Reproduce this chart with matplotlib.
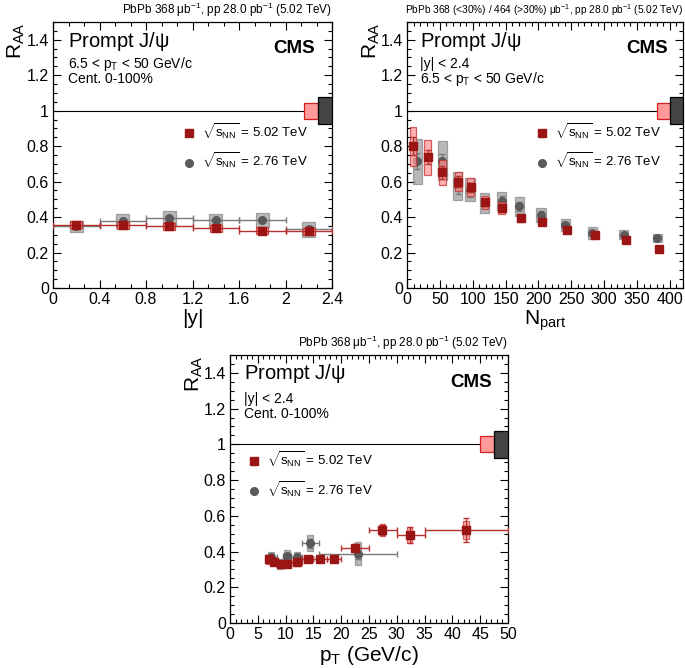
import matplotlib
matplotlib.use("Agg")
import matplotlib.pyplot as plt
from matplotlib.patches import Rectangle
from matplotlib.lines import Line2D
from matplotlib.ticker import MultipleLocator, FuncFormatter

plt.rcParams['font.family'] = ['Liberation Sans', 'DejaVu Sans']
plt.rcParams['mathtext.fontset'] = 'custom'
plt.rcParams['mathtext.rm'] = 'Liberation Sans'
plt.rcParams['mathtext.it'] = 'Liberation Sans'
plt.rcParams['mathtext.bf'] = 'Liberation Sans:bold'

# ---------------- data: RAA vs |y| ----------------
y_red_x = [0.2, 0.6, 1.0, 1.4, 1.8, 2.2]
y_red_xerr = [0.2, 0.2, 0.2, 0.2, 0.2, 0.2]
y_red_val = [0.357, 0.355, 0.347, 0.336, 0.323, 0.319]
y_red_stat = [0.006, 0.006, 0.006, 0.006, 0.006, 0.007]
y_red_sys = [0.02, 0.02, 0.02, 0.02, 0.02, 0.02]
y_gray_x = [0.2, 0.6, 1.0, 1.4, 1.8, 2.2]
y_gray_xerr = [0.2, 0.2, 0.2, 0.2, 0.2, 0.2]
y_gray_val = [0.347, 0.376, 0.392, 0.381, 0.385, 0.330]
y_gray_stat = [0.008, 0.008, 0.008, 0.008, 0.008, 0.01]
y_gray_sys = [0.03, 0.04, 0.04, 0.035, 0.04, 0.04]

# ---------------- data: RAA vs Npart ----------------
n_red_x = [9, 31.5, 54, 78, 97, 119, 144, 173, 205.5, 243, 286, 333, 383.5]
n_red_val = [0.80, 0.737, 0.652, 0.600, 0.568, 0.483, 0.451, 0.395, 0.374, 0.329, 0.301, 0.270, 0.221]
n_red_stat = [0.05, 0.04, 0.035, 0.03, 0.025, 0.02, 0.02, 0.015, 0.012, 0.01, 0.008, 0.008, 0.006]
n_red_sys = [0.11, 0.10, 0.07, 0.055, 0.05, 0.035, 0.035, 0.025, 0.02, 0.015, 0.013, 0.012, 0.012]
n_gray_x = [15.5, 54, 77, 96, 118, 144, 171, 204, 241, 282, 330, 381]
n_gray_val = [0.714, 0.718, 0.575, 0.555, 0.480, 0.490, 0.460, 0.413, 0.357, 0.310, 0.300, 0.283]
n_gray_stat = [0.045, 0.035, 0.045, 0.04, 0.03, 0.03, 0.025, 0.02, 0.015, 0.012, 0.01, 0.01]
n_gray_sys = [0.128, 0.11, 0.077, 0.065, 0.056, 0.05, 0.055, 0.04, 0.034, 0.032, 0.025, 0.022]

# ---------------- data: RAA vs pT ----------------
p_red_lo = [6.5, 7.5, 8.5, 9.5, 11, 13, 15, 17.5, 20, 25, 30, 35]
p_red_hi = [7.5, 8.5, 9.5, 11, 13, 15, 17.5, 20, 25, 30, 35, 50]
p_red_x = [7.0, 7.9, 9.2, 10.3, 12.0, 14.0, 16.2, 18.7, 22.5, 27.4, 32.3, 42.4]
p_red_val = [0.358, 0.343, 0.332, 0.332, 0.339, 0.356, 0.356, 0.360, 0.420, 0.520, 0.490, 0.520]
p_red_stat = [0.01, 0.01, 0.01, 0.01, 0.01, 0.01, 0.01, 0.012, 0.02, 0.03, 0.045, 0.065]
p_red_sys = [0.025, 0.02, 0.02, 0.02, 0.02, 0.015, 0.015, 0.015, 0.02, 0.035, 0.045, 0.05]
p_gray_lo = [6.5, 8.5, 9.5, 11, 13, 16]
p_gray_hi = [8.5, 9.5, 11, 13, 16, 30]
p_gray_x = [7.4, 9.0, 10.2, 12.0, 14.4, 23.0]
p_gray_val = [0.370, 0.330, 0.377, 0.370, 0.446, 0.388]
p_gray_stat = [0.015, 0.015, 0.015, 0.015, 0.025, 0.03]
p_gray_sys = [0.03, 0.03, 0.03, 0.03, 0.044, 0.064]

# global uncertainties (box at unity)
glob_red = 0.045
glob_gray = 0.077

RED = '#9b1515'
RED_LINE = '#b83030'
PINK = '#ff9a9a'
GRAY = '#5a5a5a'
GRAY_LINE = '#7a7a7a'
GRAY_BOX = '#a0a0a0'

titles = [r'PbPb 368 $\mu$b$^{-1}$, pp 28.0 pb$^{-1}$ (5.02 TeV)',
          r'PbPb 368 (<30%) / 464 (>30%) $\mu$b$^{-1}$, pp 28.0 pb$^{-1}$ (5.02 TeV)',
          r'PbPb 368 $\mu$b$^{-1}$, pp 28.0 pb$^{-1}$ (5.02 TeV)']
title_sizes = [8.5, 7.3, 8.5]

fig = plt.figure(figsize=(6.85, 6.68), dpi=100)
ax1 = fig.add_axes([53/685, 1-288/668, 279/685, 266/668])
ax2 = fig.add_axes([407/685, 1-288/668, 276/685, 266/668])
ax3 = fig.add_axes([230/685, 1-623/668, 278/685, 268/668])


def boxes(ax, xs, ys, half_h, half_w, fc, ec, alpha, z):
    for x, y, h in zip(xs, ys, half_h):
        ax.add_patch(Rectangle((x - half_w, y - h), 2*half_w, 2*h, facecolor=fc,
                               edgecolor=ec, alpha=alpha, lw=0.9, zorder=z))


def style(ax, xmax, xmaj, xmin, xlabel, title, tsize):
    ax.set_ylim(0, 1.5)
    ax.set_xlim(0, xmax)
    ax.axhline(1.0, color='black', lw=0.8, zorder=1)
    ax.yaxis.set_major_locator(MultipleLocator(0.2))
    ax.yaxis.set_minor_locator(MultipleLocator(0.05))
    ax.xaxis.set_major_locator(MultipleLocator(xmaj))
    ax.xaxis.set_minor_locator(MultipleLocator(xmin))
    fmt = FuncFormatter(lambda v, p: ('%.1f' % v).rstrip('0').rstrip('.') if abs(v) > 1e-9 else '0')
    ax.yaxis.set_major_formatter(fmt)
    ax.xaxis.set_major_formatter(fmt)
    ax.tick_params(which='both', direction='in', top=True, right=True, labelsize=11.5,
                   width=0.8, colors='black')
    ax.tick_params(which='major', length=6, pad=3)
    ax.tick_params(which='minor', length=3)
    for s in ax.spines.values():
        s.set_linewidth(0.9)
    ax.set_xlabel(xlabel, fontsize=15, labelpad=1)
    ax.text(-0.13, 1.0, r'$R_{AA}$', rotation=90, ha='center', va='top',
            fontsize=15, transform=ax.transAxes)
    ax.text(1.0, 1.03, title, ha='right', va='baseline', fontsize=tsize,
            transform=ax.transAxes)


def global_boxes(ax, x0, x1, x2):
    ax.add_patch(Rectangle((x0, 1 - glob_red), x1 - x0, 2*glob_red, facecolor=PINK,
                           edgecolor='#d02020', lw=0.9, zorder=3))
    ax.add_patch(Rectangle((x1, 1 - glob_gray), x2 - x1, 2*glob_gray, facecolor='#444444',
                           edgecolor='black', lw=0.9, zorder=3))


def legend(ax, x, y):
    h = [Line2D([], [], marker='s', color=RED, ls='none', ms=5.8),
         Line2D([], [], marker='o', color=GRAY, ls='none', ms=5.5)]
    lab = [r'$\sqrt{s_{\mathrm{NN}}}$ = 5.02 TeV', r'$\sqrt{s_{\mathrm{NN}}}$ = 2.76 TeV']
    ax.legend(h, lab, loc='center left', bbox_to_anchor=(x, y), frameon=False,
              fontsize=9.5, handlelength=0.8, handletextpad=0.55, labelspacing=0.75,
              borderpad=0, borderaxespad=0)


def labels(ax, x, ys, lines, cms_x, cms_y):
    ax.text(x, ys[0], r'Prompt J/$\psi$', fontsize=14.5, transform=ax.transAxes)
    ax.text(x, ys[1], lines[0], fontsize=10, transform=ax.transAxes)
    ax.text(x, ys[2], lines[1], fontsize=10, transform=ax.transAxes)
    ax.text(cms_x, cms_y, 'CMS', fontsize=13.5, fontweight='bold', ha='right',
            transform=ax.transAxes)


PT_TXT = r'6.5 < p$_{\mathrm{T}}$ < 50 GeV/c'

# ---------- panel 1 : |y| ----------
boxes(ax1, y_gray_x, y_gray_val, y_gray_sys, 0.055, GRAY_BOX, '#888888', 0.75, 2)
ax1.errorbar(y_gray_x, y_gray_val, xerr=y_gray_xerr, yerr=y_gray_stat, fmt='o', color=GRAY,
             ecolor=GRAY_LINE, ms=5.5, capsize=2.5, elinewidth=1.0, zorder=4)
boxes(ax1, y_red_x, y_red_val, y_red_sys, 0.05, PINK, '#c83030', 0.9, 5)
ax1.errorbar(y_red_x, y_red_val, xerr=y_red_xerr, yerr=y_red_stat, fmt='s', color=RED,
             ecolor=RED_LINE, ms=5.8, capsize=2.5, elinewidth=1.0, zorder=6)
global_boxes(ax1, 2.16, 2.28, 2.4)
style(ax1, 2.4, 0.4, 0.4/3, '|y|', titles[0], title_sizes[0])
labels(ax1, 0.053, [0.907, 0.826, 0.770], [PT_TXT, 'Cent. 0-100%'], 0.939, 0.882)
legend(ax1, 0.470, 0.532)

# ---------- panel 2 : Npart ----------
boxes(ax2, n_gray_x, n_gray_val, n_gray_sys, 7, GRAY_BOX, '#888888', 0.75, 2)
ax2.errorbar(n_gray_x, n_gray_val, yerr=n_gray_stat, fmt='o', color=GRAY,
             ecolor=GRAY_LINE, ms=5.5, capsize=2.5, elinewidth=1.0, zorder=4)
boxes(ax2, n_red_x, n_red_val, n_red_sys, 5, PINK, '#c83030', 0.75, 5)
ax2.errorbar(n_red_x, n_red_val, yerr=n_red_stat, fmt='s', color=RED,
             ecolor=RED_LINE, ms=5.8, capsize=2.5, elinewidth=1.0, zorder=6)
global_boxes(ax2, 380, 400, 420)
style(ax2, 420, 50, 10, r'N$_{\mathrm{part}}$', titles[1], title_sizes[1])
labels(ax2, 0.047, [0.907, 0.826, 0.770], ['|y| < 2.4', PT_TXT], 0.946, 0.882)
legend(ax2, 0.471, 0.532)

# ---------- panel 3 : pT ----------
p_gray_xerr = [[x - lo for x, lo in zip(p_gray_x, p_gray_lo)],
               [hi - x for x, hi in zip(p_gray_x, p_gray_hi)]]
p_red_xerr = [[x - lo for x, lo in zip(p_red_x, p_red_lo)],
              [hi - x for x, hi in zip(p_red_x, p_red_hi)]]
boxes(ax3, p_gray_x, p_gray_val, p_gray_sys, 0.55, GRAY_BOX, '#888888', 0.75, 2)
ax3.errorbar(p_gray_x, p_gray_val, xerr=p_gray_xerr, yerr=p_gray_stat, fmt='o', color=GRAY,
             ecolor=GRAY_LINE, ms=5.5, capsize=2.5, elinewidth=1.0, zorder=4)
boxes(ax3, p_red_x, p_red_val, p_red_sys, 0.5, PINK, '#c83030', 0.75, 5)
ax3.errorbar(p_red_x, p_red_val, xerr=p_red_xerr, yerr=p_red_stat, fmt='s', color=RED,
             ecolor=RED_LINE, ms=5.8, capsize=2.5, elinewidth=1.0, zorder=6)
global_boxes(ax3, 45, 47.5, 50)
style(ax3, 50, 5, 1, r'p$_{\mathrm{T}}$ (GeV/c)', titles[2], title_sizes[2])
labels(ax3, 0.05, [0.909, 0.822, 0.764], ['|y| < 2.4', 'Cent. 0-100%'], 0.941, 0.879)
legend(ax3, 0.069, 0.553)

fig.savefig('out.png', dpi=100)
